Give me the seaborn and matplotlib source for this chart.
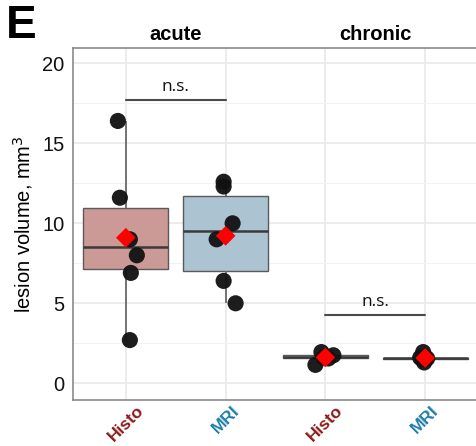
import numpy as np
import pandas as pd
import matplotlib.pyplot as plt
import seaborn as sns
from matplotlib.ticker import MultipleLocator

# values (lesion volume, mm^3)
conditions = ["acute Histo", "acute MRI", "chronic Histo", "chronic MRI"]
tick_labels = ["Histo", "MRI", "Histo", "MRI"]
phases = ["acute", "chronic"]
acute_histo = [16.4, 11.6, 9.0, 8.0, 6.9, 2.7]
acute_mri = [12.6, 12.3, 10.0, 9.0, 6.4, 5.0]
chronic_histo = [1.95, 1.75, 1.7, 1.6, 1.55, 1.15]
chronic_mri = [1.95, 1.6, 1.58, 1.55, 1.5, 1.3]
sig_labels = ["n.s.", "n.s."]
sig_heights = [17.7, 4.25]

# horizontal spread of the points (in category units), kept apart from the values
jitter = [
    [-0.08, -0.06, 0.04, 0.11, 0.05, 0.04],
    [-0.02, -0.02, 0.07, -0.09, -0.02, 0.10],
    [-0.04, 0.08, 0.00, -0.02, 0.03, -0.10],
    [-0.02, -0.05, 0.00, 0.02, -0.03, -0.01],
]

HISTO_FILL = "#D4918D"
MRI_FILL = "#A6C4D7"
HISTO_TXT = "#8E1B1B"
MRI_TXT = "#1F7FAA"

rows = []
for ci, (cond, vals) in enumerate(zip(conditions, [acute_histo, acute_mri, chronic_histo, chronic_mri])):
    for v, j in zip(vals, jitter[ci]):
        rows.append({"cond": cond, "value": v, "xpos": ci + j})
df = pd.DataFrame(rows)
means = df.groupby("cond", sort=False)["value"].mean().reindex(conditions)

sns.set_style("white")
plt.rcParams["font.family"] = ["Liberation Sans", "DejaVu Sans"]
plt.rcParams["text.color"] = "#000000"
plt.rcParams["axes.labelcolor"] = "#000000"

fig = plt.figure(figsize=(4.77, 4.46), dpi=100)
ax = fig.add_axes([0.153, 0.103, 0.845, 0.789])

palette = {c: (HISTO_FILL if "Histo" in c else MRI_FILL) for c in conditions}
sns.boxplot(
    data=df, x="cond", y="value", hue="cond", order=conditions, palette=palette,
    legend=False, width=0.85, linecolor="#5a5a5a", linewidth=1.0, showcaps=False,
    showfliers=False, whis=1.5, medianprops=dict(color="#3a3a3a", linewidth=1.8),
    whiskerprops=dict(color="#6a6a6a", linewidth=1.3), ax=ax, zorder=2,
)

sns.scatterplot(data=df, x="xpos", y="value", color="#111111", s=135, alpha=0.95,
                edgecolor="none", ax=ax, zorder=3)
ax.scatter(range(len(conditions)), means.values, marker="D", s=100, color="#FF0000",
           edgecolor="none", zorder=4)

# significance bars
for k, (lab, h) in enumerate(zip(sig_labels, sig_heights)):
    x0, x1 = 2 * k, 2 * k + 1
    ax.plot([x0, x1], [h, h], color="#4a4a4a", lw=1.5, zorder=3)
    ax.text((x0 + x1) / 2, h + 0.35, lab, ha="center", va="bottom", fontsize=12.5,
            family=["Open Sans", "DejaVu Sans"], color="#111111")

ax.set_xlim(-0.53, 3.51)
ax.set_ylim(-1.05, 20.95)
ax.yaxis.set_major_locator(MultipleLocator(5))
ax.yaxis.set_minor_locator(MultipleLocator(2.5))
ax.grid(True, which="major", color="#EBEBEB", lw=1.3, zorder=0)
ax.grid(True, which="minor", axis="y", color="#F2F2F2", lw=0.8, zorder=0)
ax.set_axisbelow(True)

ax.set_xticks(range(len(conditions)))
ax.set_xticklabels(tick_labels, rotation=45, ha="center", va="top",
                   fontsize=12.5, fontweight="bold")
for t in ax.get_xticklabels():
    t.set_color(HISTO_TXT if t.get_text() == "Histo" else MRI_TXT)
ax.tick_params(axis="x", length=0, pad=2)
ax.tick_params(axis="y", length=0, pad=6, labelsize=14.5, labelcolor="#111111")
ax.set_xlabel("")
ax.set_ylabel("lesion volume, mm$^3$", fontsize=14.5, labelpad=5)

for side in ["left", "bottom", "top"]:
    ax.spines[side].set_color("#8a8a8a")
    ax.spines[side].set_linewidth(1.2)
ax.spines["right"].set_visible(False)

# facet-style strip labels
for k, ph in enumerate(phases):
    ax.text(2 * k + 0.5, 1.012, ph, transform=ax.get_xaxis_transform(), ha="center",
            va="bottom", fontsize=14.5, fontweight="bold")

fig.text(0.012, 0.99, "E", ha="left", va="top", fontsize=33, fontweight="bold")

fig.savefig("out.png", dpi=100)
